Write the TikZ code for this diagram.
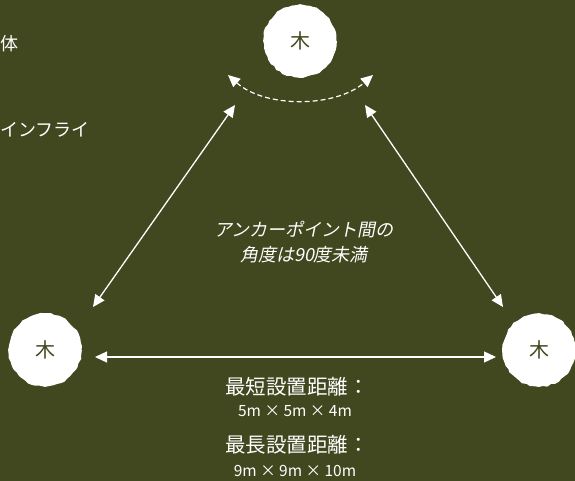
\documentclass[tikz,border=0pt]{standalone}
\usepackage{fontspec}
\newfontfamily\jpfont{Noto Sans CJK JP}
\newfontfamily\jpslant[FakeSlant=0.2]{Noto Sans CJK JP}
\usetikzlibrary{arrows.meta,decorations.pathmorphing}
\definecolor{bgOlive}{RGB}{65,71,30}
\begin{document}
\begin{tikzpicture}[x=1pt,y=-1pt,
    tree/.style={circle,fill=white,minimum size=73pt,inner sep=0pt,text=bgOlive,
      font=\jpfont\fontsize{20}{20}\selectfont,
      decorate,decoration={random steps,segment length=4pt,amplitude=0.8pt}},
    span/.style={white,line width=1.3pt,{Triangle[length=12pt,width=11pt]}-{Triangle[length=12pt,width=11pt]}},
    label/.style={text=white,inner sep=0pt,font=\jpfont\fontsize{18}{18}\selectfont}]
    \useasboundingbox (0,0) rectangle (575,481);
    \fill[bgOlive] (0,0) rectangle (575,481);
    \clip (0,0) rectangle (575,481);
    \pgfmathsetseed{7}

    % trees
    \node[tree] (treeTop) at (300,41) {木};
    \node[tree] (treeLeft) at (45,350) {木};
    \node[tree] (treeRight) at (539,350) {木};

    % arrow ends
    \coordinate (leftLow) at ([shift={(48pt,43pt)}]treeLeft.center);
    \coordinate (rightLow) at ([shift={(-36pt,43pt)}]treeRight.center);
    \coordinate (topLeft) at ([shift={(-65pt,-64pt)}]treeTop.center);
    \coordinate (topRight) at ([shift={(65pt,-64pt)}]treeTop.center);
    \coordinate (arcLeft) at ([shift={(-72pt,-34pt)}]treeTop.center);
    \coordinate (arcRight) at ([shift={(73pt,-34pt)}]treeTop.center);
    \coordinate (baseLeft) at ([shift={(50pt,-7pt)}]treeLeft.center);
    \coordinate (baseRight) at ([shift={(-43pt,-7pt)}]treeRight.center);

    \draw[span] (leftLow) -- (topLeft);
    \draw[span] (rightLow) -- (topRight);
    \draw[span] (baseLeft) -- (baseRight);
    \draw[span,line width=1.2pt,dash pattern=on 5pt off 3pt] (arcLeft) .. controls (265,108) and (335,108) .. (arcRight);

    % texts
    \node[label,anchor=west] (bodyText) at (0,44) {体};
    \node[label,anchor=west] (inflyText) at (0,130) {インフライ};
    \node[label,font=\jpslant\fontsize{18}{18}\selectfont,align=center] (angleText) at (304,242)
      {アンカーポイント間の\\[7pt]角度は90度未満};
    \node[label,font=\jpfont\fontsize{20.5}{20}\selectfont] (shortHead) at (297,387) {最短設置距離：};
    \node[label,font=\jpfont\fontsize{15.5}{15}\selectfont] (shortVal) at (295,411) {5m × 5m × 4m};
    \node[label,font=\jpfont\fontsize{20.5}{20}\selectfont] (longHead) at (297,445) {最長設置距離：};
    \node[label,font=\jpfont\fontsize{15.5}{15}\selectfont] (longVal) at (295,471) {9m × 9m × 10m};
\end{tikzpicture}
\end{document}
